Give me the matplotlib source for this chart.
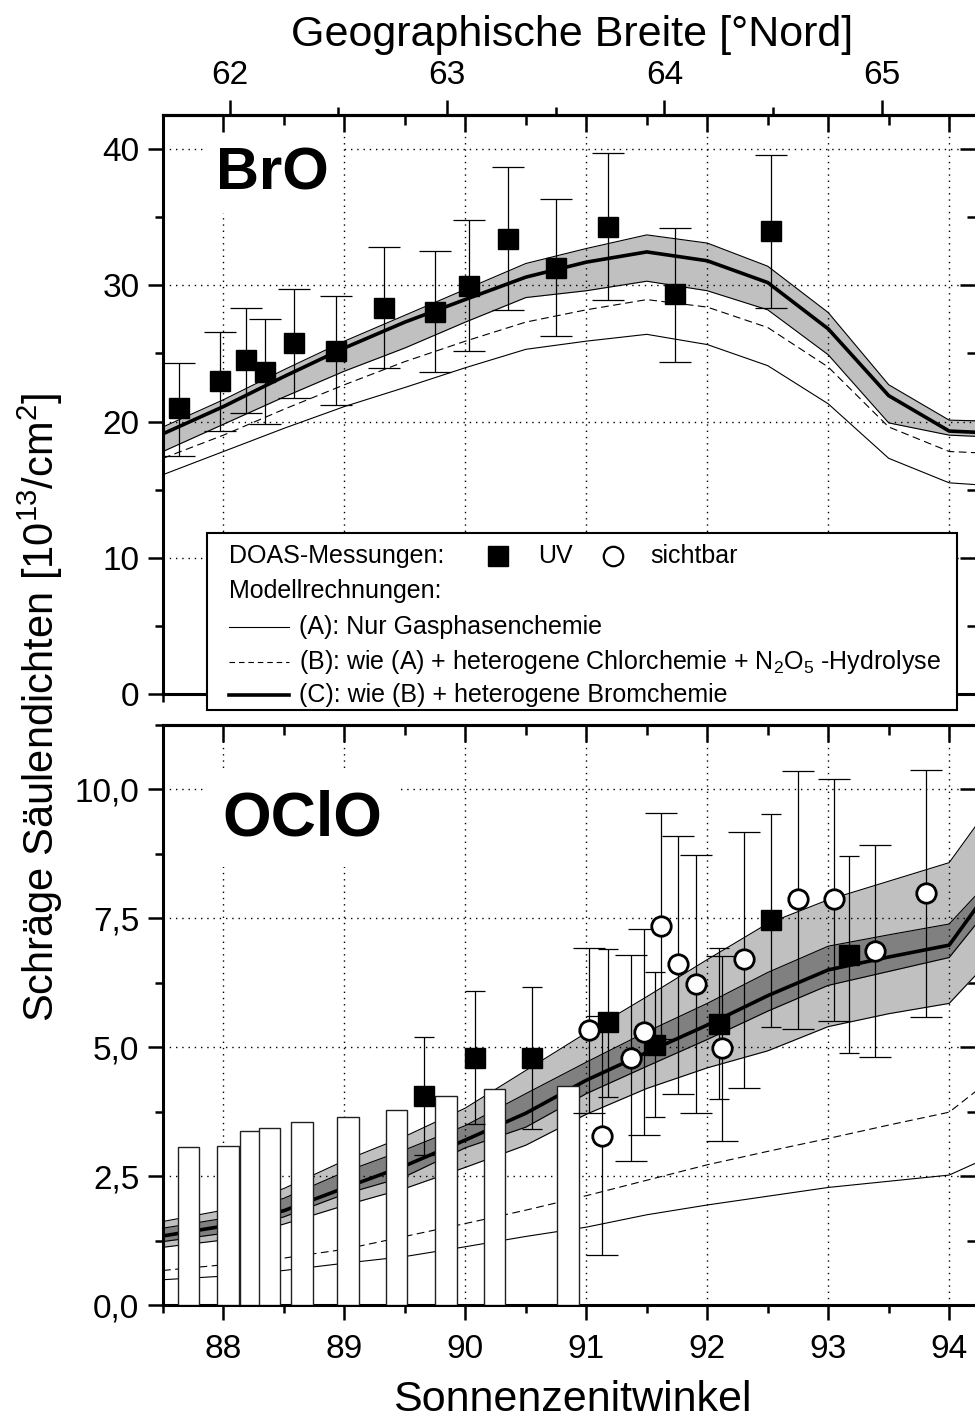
import matplotlib
matplotlib.use('Agg')
import numpy as np
import matplotlib.pyplot as plt
from matplotlib.ticker import MultipleLocator, FixedLocator, FuncFormatter
from matplotlib.patches import Rectangle
from matplotlib.lines import Line2D

plt.rcParams['font.family'] = ['Liberation Sans', 'DejaVu Sans']
plt.rcParams['mathtext.fontset'] = 'custom'
plt.rcParams['mathtext.rm'] = 'Liberation Sans'
plt.rcParams['mathtext.it'] = 'Liberation Sans:italic'

# ---------------- data ----------------
# model grid (solar zenith angle)
sza = [87.5, 88.0, 88.5, 89.0, 89.5, 90.0, 90.5, 91.0, 91.5, 92.0, 92.5, 93.0, 93.5, 94.0, 94.5]

# BrO model runs
bro_a = [16.1, 17.8, 19.5, 21.1, 22.5, 23.95, 25.3, 25.9, 26.4, 25.65, 24.1, 21.3, 17.3, 15.5, 15.2]
bro_b = [17.3, 19.0, 20.9, 22.7, 24.4, 25.9, 27.3, 28.2, 28.95, 28.4, 26.9, 24.0, 19.6, 17.8, 17.6]
bro_c = [19.1, 21.1, 23.3, 25.4, 27.3, 28.96, 30.6, 31.7, 32.45, 31.8, 30.2, 26.8, 21.9, 19.3, 19.1]
bro_c_hi = [19.6, 21.6, 23.8, 25.9, 27.8, 29.7, 31.6, 32.7, 33.7, 33.1, 31.4, 28.0, 22.7, 20.1, 20.0]
bro_c_lo = [17.8, 19.8, 21.8, 23.7, 25.4, 27.3, 29.1, 29.6, 30.3, 29.6, 28.2, 24.9, 19.9, 19.0, 18.8]

# BrO DOAS UV measurements
bro_sza = [87.63, 87.97, 88.19, 88.34, 88.58, 88.93, 89.33, 89.75, 90.03, 90.35, 90.75, 91.18, 91.73, 92.53]
bro_uv = [20.96, 22.96, 24.5, 23.65, 25.8, 25.2, 28.35, 28.05, 29.96, 33.4, 31.3, 34.3, 29.35, 33.97]
bro_uv_hi = [24.3, 26.6, 28.3, 27.5, 29.7, 29.2, 32.8, 32.5, 34.8, 38.7, 36.3, 39.7, 34.2, 39.6]
bro_uv_lo = [17.5, 19.3, 20.6, 19.8, 21.7, 21.2, 23.9, 23.6, 25.2, 28.2, 26.3, 28.9, 24.4, 28.3]

# OClO model runs
ocl_a = [0.49, 0.56, 0.67, 0.81, 0.94, 1.13, 1.33, 1.51, 1.75, 1.94, 2.11, 2.28, 2.40, 2.52, 3.05]
ocl_b = [0.67, 0.78, 0.91, 1.08, 1.33, 1.58, 1.84, 2.12, 2.42, 2.72, 2.98, 3.23, 3.49, 3.74, 4.66]
ocl_c = [1.34, 1.53, 1.83, 2.27, 2.70, 3.20, 3.72, 4.36, 4.90, 5.43, 6.00, 6.50, 6.75, 6.98, 8.60]
ocl_light_hi = [1.62, 1.84, 2.26, 2.80, 3.27, 3.82, 4.55, 5.28, 5.98, 6.70, 7.40, 7.86, 8.22, 8.58, 10.2]
ocl_dark_hi = [1.49, 1.68, 2.07, 2.58, 3.01, 3.48, 4.10, 4.71, 5.30, 5.85, 6.45, 6.96, 7.18, 7.39, 8.65]
ocl_dark_lo = [1.23, 1.39, 1.71, 2.15, 2.49, 3.05, 3.45, 4.10, 4.63, 5.15, 5.70, 6.20, 6.47, 6.74, 8.20]
ocl_light_lo = [1.12, 1.26, 1.57, 1.93, 2.26, 2.67, 3.10, 3.70, 4.20, 4.60, 4.93, 5.40, 5.65, 5.85, 7.10]

# OClO DOAS UV measurements
ocl_uv_sza = [89.66, 90.08, 90.55, 91.18, 91.57, 92.10, 92.53, 93.17]
ocl_uv = [4.05, 4.80, 4.80, 5.48, 5.04, 5.46, 7.47, 6.79]
ocl_uv_hi = [5.19, 6.10, 6.17, 6.90, 6.45, 6.92, 9.53, 8.70]
ocl_uv_lo = [2.91, 3.52, 3.41, 4.04, 3.65, 3.99, 5.40, 4.89]

# OClO DOAS visible measurements
ocl_vis_sza = [91.02, 91.13, 91.37, 91.48, 91.62, 91.76, 91.91, 92.12, 92.30, 92.75, 93.05, 93.39, 93.81]
ocl_vis = [5.33, 3.27, 4.80, 5.30, 7.35, 6.61, 6.23, 4.98, 6.71, 7.87, 7.87, 6.87, 8.00]
ocl_vis_hi = [6.92, 5.60, 6.78, 7.29, 9.55, 9.10, 8.72, 6.77, 9.18, 10.35, 10.20, 8.92, 10.37]
ocl_vis_lo = [3.72, 0.97, 2.79, 3.30, 5.15, 4.09, 3.72, 3.18, 4.20, 5.35, 5.50, 4.82, 5.59]

# white bars (OClO panel)
bar_sza = [87.71, 88.04, 88.225, 88.38, 88.65, 89.03, 89.43, 89.84, 90.24, 90.85]
bar_val = [3.07, 3.08, 3.37, 3.43, 3.55, 3.65, 3.79, 4.05, 4.18, 4.25]

# latitude scale along the flight track: SZA at 62 deg N and SZA per degree latitude
LAT0, SZA_AT_LAT0, SZA_PER_LAT = 62.0, 88.05, 1.798
lat_major = [62, 63, 64, 65]
lat_minor = [62.5, 63.5, 64.5]

# ---------------- figure ----------------
W, H = 975, 1427
fig = plt.figure(figsize=(W / 100, H / 100), dpi=100)


def fx(px):
    return px / W


def fy(py):
    return 1 - py / H


L, R = 163, 977
ax1 = fig.add_axes([fx(L), fy(694), fx(R) - fx(L), fy(115) - fy(694)])
ax2 = fig.add_axes([fx(L), fy(1305), fx(R) - fx(L), fy(725) - fy(1305)])

TW = 1.8
for ax, ymaj, ymin_, ytop in [(ax1, 10, 5, 42.5), (ax2, 2.5, 1.25, 11.25)]:
    ax.set_xlim(87.5, 94.23)
    ax.set_ylim(0, ytop)
    for s in ax.spines.values():
        s.set_linewidth(2.2)
    ax.xaxis.set_major_locator(MultipleLocator(1))
    ax.xaxis.set_minor_locator(MultipleLocator(0.5))
    ax.yaxis.set_major_locator(MultipleLocator(ymaj))
    ax.yaxis.set_minor_locator(MultipleLocator(ymin_))
    ax.tick_params(which='both', direction='out', width=TW, labelsize=24)
    ax.tick_params(which='major', length=11)
    ax.tick_params(which='minor', length=6)
    ax.tick_params(axis='y', pad=6)
    ax.tick_params(axis='x', pad=10)
    ax.grid(True, which='major', color='black', linestyle=(0, (1, 3.5)), linewidth=1.0)
    ax.set_axisbelow(True)
    # mirrored ticks pointing inward
    top = ax.secondary_xaxis('top')
    top.xaxis.set_major_locator(MultipleLocator(1))
    top.xaxis.set_minor_locator(MultipleLocator(0.5))
    top.tick_params(which='both', direction='in', width=TW, labeltop=False)
    top.tick_params(which='major', length=12)
    top.tick_params(which='minor', length=7)
    top.spines['top'].set_linewidth(2.2)
    top.set_zorder(5)
    rt = ax.secondary_yaxis('right')
    rt.yaxis.set_major_locator(MultipleLocator(ymaj))
    rt.yaxis.set_minor_locator(MultipleLocator(ymin_))
    rt.tick_params(which='both', direction='in', width=TW, labelright=False)
    rt.tick_params(which='major', length=12)
    rt.tick_params(which='minor', length=7)
    rt.spines['right'].set_linewidth(2.2)

ax1.tick_params(axis='x', labelbottom=False)
ax2.yaxis.set_major_formatter(FuncFormatter(lambda v, p: f'{v:.1f}'.replace('.', ',')))

# latitude axis on top of the BrO panel
lat = ax1.secondary_xaxis(
    'top',
    functions=(lambda s: LAT0 + (np.asarray(s) - SZA_AT_LAT0) / SZA_PER_LAT,
               lambda l: SZA_AT_LAT0 + (np.asarray(l) - LAT0) * SZA_PER_LAT))
lat.xaxis.set_major_locator(FixedLocator(lat_major))
lat.xaxis.set_minor_locator(FixedLocator(lat_minor))
lat.tick_params(which='both', direction='out', width=TW, labelsize=24, pad=6)
lat.tick_params(which='major', length=11)
lat.tick_params(which='minor', length=6)
lat.spines['top'].set_linewidth(2.2)

dash = (0, (7, 4))

# ---- BrO panel ----
ax1.fill_between(sza, bro_c_lo, bro_c_hi, color='#c0c0c0', lw=0, zorder=0.2)
ax1.plot(sza, bro_c_hi, color='black', lw=0.8, zorder=1.5)
ax1.plot(sza, bro_c_lo, color='black', lw=0.8, zorder=1.5)
ax1.plot(sza, bro_a, color='black', lw=0.8, zorder=1.5)
ax1.plot(sza, bro_b, color='black', lw=0.8, ls=dash, zorder=1.5)
ax1.plot(sza, bro_c, color='black', lw=2.6, zorder=1.6)
bro_y = np.array(bro_uv)
ax1.errorbar(bro_sza, bro_y, yerr=[bro_y - np.array(bro_uv_lo), np.array(bro_uv_hi) - bro_y],
             fmt='none', ecolor='black', elinewidth=0.9, capsize=11.5, capthick=0.9, zorder=4)
ax1.plot(bro_sza, bro_uv, 's', ms=14, mfc='black', mec='black', zorder=5)
ax1.text((216 - L) / (R - L), (694 - 190) / 579, 'BrO', transform=ax1.transAxes,
         fontsize=43, fontweight='bold', va='baseline', ha='left', zorder=2,
         bbox=dict(facecolor='white', edgecolor='none', boxstyle='square,pad=0.18'))

# ---- OClO panel ----
ax2.fill_between(sza, ocl_light_lo, ocl_light_hi, color='#c0c0c0', lw=0, zorder=0.2)
ax2.fill_between(sza, ocl_dark_lo, ocl_dark_hi, color='#808080', lw=0, zorder=0.3)
for edge in (ocl_light_hi, ocl_dark_hi, ocl_dark_lo, ocl_light_lo):
    ax2.plot(sza, edge, color='black', lw=0.8, zorder=1.5)
ax2.plot(sza, ocl_a, color='black', lw=0.8, zorder=1.5)
ax2.plot(sza, ocl_b, color='black', lw=0.8, ls=dash, zorder=1.5)
ax2.plot(sza, ocl_c, color='black', lw=2.6, zorder=1.6)
ax2.bar(bar_sza, bar_val, width=0.18, color='white', edgecolor='#202020', linewidth=1.0, zorder=3)

uv_y = np.array(ocl_uv)
ax2.errorbar(ocl_uv_sza, uv_y, yerr=[uv_y - np.array(ocl_uv_lo), np.array(ocl_uv_hi) - uv_y],
             fmt='none', ecolor='black', elinewidth=0.9, capsize=7.2, capthick=0.9, zorder=4)
vis_y = np.array(ocl_vis)
ax2.errorbar(ocl_vis_sza, vis_y, yerr=[vis_y - np.array(ocl_vis_lo), np.array(ocl_vis_hi) - vis_y],
             fmt='none', ecolor='black', elinewidth=0.9, capsize=11.5, capthick=0.9, zorder=4)
ax2.plot(ocl_uv_sza, ocl_uv, 's', ms=14, mfc='black', mec='black', zorder=5)
ax2.plot(ocl_vis_sza, ocl_vis, 'o', ms=14, mfc='white', mec='black', mew=2, zorder=6)
ax2.text((222 - L) / (R - L), (1305 - 835) / 580, 'OClO', transform=ax2.transAxes,
         fontsize=45, fontweight='bold', va='baseline', ha='left', zorder=2,
         bbox=dict(facecolor='white', edgecolor='none', boxstyle='square,pad=0.3'))

# ---- axis titles ----
fig.text(fx(572), fy(46), 'Geographische Breite [°Nord]', fontsize=31, ha='center', va='baseline')
fig.text(fx(572), fy(1411), 'Sonnenzenitwinkel', fontsize=31, ha='center', va='baseline')
fig.text(fx(40), fy(707), 'Schräge Säulendichten [10$^{13}$/cm$^2$]', fontsize=30,
         rotation=90, ha='center', va='center')

# ---- legend box ----
fig.add_artist(Rectangle((fx(207), fy(710)), fx(957) - fx(207), fy(533) - fy(710),
                         transform=fig.transFigure, facecolor='white', edgecolor='black',
                         lw=1.5, zorder=10))
LS = 18
rows = [556, 591, 627, 662, 695]
fig.text(fx(229), fy(rows[0]), 'DOAS-Messungen:', fontsize=LS, va='center', zorder=11)
fig.add_artist(Line2D([fx(498)], [fy(rows[0])], marker='s', ms=14, color='black',
                      transform=fig.transFigure, zorder=11))
fig.text(fx(538), fy(rows[0]), 'UV', fontsize=LS, va='center', zorder=11)
fig.add_artist(Line2D([fx(613)], [fy(rows[0])], marker='o', ms=14, mfc='white', mec='black',
                      mew=1.6, transform=fig.transFigure, zorder=11))
fig.text(fx(650), fy(rows[0]), 'sichtbar', fontsize=LS, va='center', zorder=11)
fig.text(fx(229), fy(rows[1]), 'Modellrechnungen:', fontsize=LS, va='center', zorder=11)
legend_lines = [
    (rows[2], 0.8, '-', '(A): Nur Gasphasenchemie'),
    (rows[3], 0.8, (0, (5, 3.5)), '(B): wie (A) + heterogene Chlorchemie + N$_2$O$_5$ -Hydrolyse'),
    (rows[4], 2.6, '-', '(C): wie (B) + heterogene Bromchemie'),
]
for yy, lw, ls, label in legend_lines:
    fig.add_artist(Line2D([fx(229), fx(289)], [fy(yy), fy(yy)], color='black', lw=lw, ls=ls,
                          transform=fig.transFigure, zorder=11))
    fig.text(fx(299), fy(yy), label, fontsize=LS, va='center', zorder=11)

fig.savefig('out.png', dpi=100, facecolor='white')
